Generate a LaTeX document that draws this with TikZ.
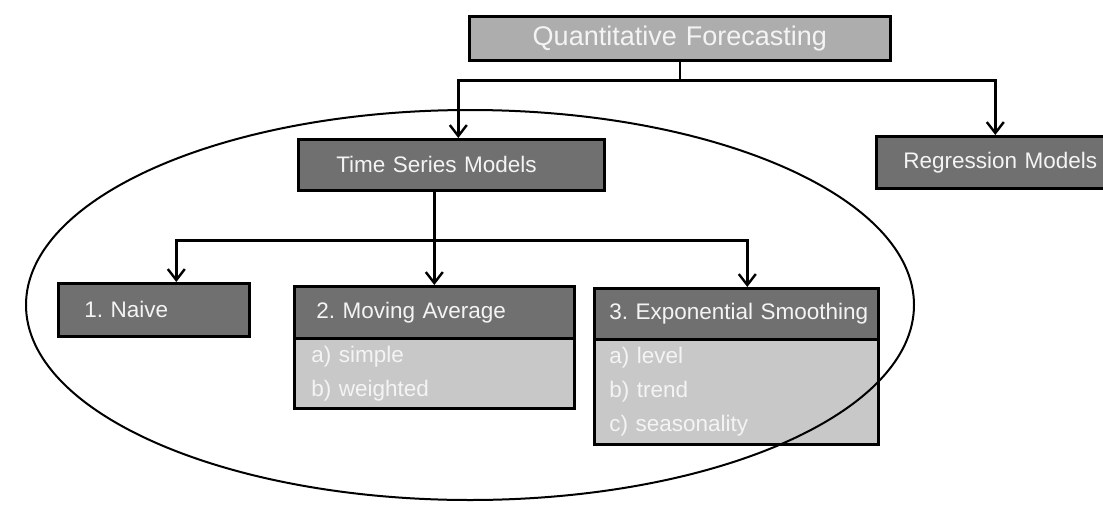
\documentclass[tikz,border=0pt]{standalone}
\usepackage{fontspec}
\setmainfont{Liberation Sans}
\usetikzlibrary{arrows.meta}

\definecolor{boxdark}{HTML}{707070}
\definecolor{boxlight}{HTML}{ADADAD}
\definecolor{panelgray}{HTML}{C8C8C8}
\definecolor{labelwhite}{HTML}{F4F4F4}

\frenchspacing

\begin{document}
\begin{tikzpicture}[x=1pt,y=-1pt,
  box/.style={draw=black, line width=2.6pt, fill=boxdark, text=labelwhite,
    font=\fontsize{22.5}{26}\selectfont, inner ysep=0pt, align=left,
    anchor=north west},
  panel/.style={box, fill=panelgray, font=\fontsize{22.5}{34}\selectfont},
  conn/.style={line width=2.4pt, draw=black},
  arr/.style={conn, -{Straight Barb[length=11pt,width=17pt,line width=2.4pt]}},
  ring/.style={line width=2pt, draw=black}
]
\clip (0,0) rectangle (1103,509);
\useasboundingbox (0,0) rectangle (1103,509);
\fill[white] (0,0) rectangle (1103,509);

% top level
\node[box, fill=boxlight, align=center, text width=421pt, inner xsep=0pt,
      minimum height=44pt, font=\fontsize{27}{30}\selectfont]
      (quant) at (468,15) {\mbox{Quantitative Forecasting}};

% second level
\node[box, minimum height=51pt, inner xsep=38pt, text width=230pt]
      (tsm) at (297,138) {\mbox{Time Series Models}};
\node[box, minimum height=52pt, inner xsep=27pt, text width=181pt]
      (reg) at (875,135) {\mbox{Regression Models}};

% third level
\node[box, minimum height=53pt, inner xsep=26pt, text width=139pt]
      (naive) at (57,282) {\mbox{1. Naive}};
\node[box, minimum height=52pt, inner xsep=22pt, text width=236pt]
      (mahead) at (293,285) {\mbox{2. Moving Average}};
\node[panel, minimum height=70pt, inner xsep=17pt, text width=246pt]
      (mabody) at (293,337) {\mbox{a) simple}\\\mbox{b) weighted}};
\node[box, minimum height=51pt, inner xsep=15pt, text width=254pt]
      (eshead) at (593,287) {\mbox{3. Exponential Smoothing}};
\node[panel, minimum height=105pt, inner xsep=15pt, text width=254pt]
      (esbody) at (593,338) {\mbox{a) level}\\\mbox{b) trend}\\\mbox{c) seasonality}};

% connectors from the top box
\draw[conn] (quant.south) -- ++(0,19) coordinate (qbus);
\draw[arr] (qbus) -| ([xshift=7pt]tsm.north);
\draw[arr] (qbus) -| ([xshift=1.5pt]reg.north);

% connectors from the time series box
\draw[conn] ([xshift=-17pt]tsm.south) -- ++(0,49) coordinate (tbus);
\draw[arr] (tbus) -| ([xshift=22.5pt]naive.north);
\draw[arr] (tbus) -- (mahead.north);
\draw[arr] (tbus) -| ([xshift=11pt]eshead.north);

% grouping ellipse around the time series family
\draw[ring] (470,305) ellipse [x radius=444, y radius=195];
\end{tikzpicture}
\end{document}
